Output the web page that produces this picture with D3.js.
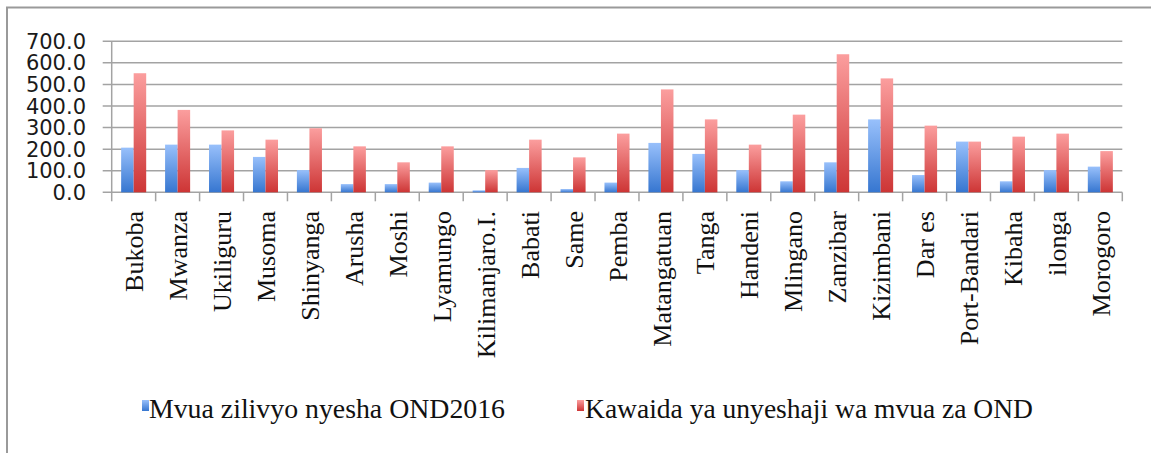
<!DOCTYPE html>
<html>
<head>
<meta charset="utf-8">
<script src="https://cdn.jsdelivr.net/npm/d3@7"></script>
<style>
  body { margin: 0; background: #fff; }
  svg { display: block; }
</style>
</head>
<body>
<div id="chart"></div>
<script>
// datos
const stations = ["Bukoba", "Mwanza", "Ukiliguru", "Musoma", "Shinyanga", "Arusha", "Moshi",
  "Lyamungo", "Kilimanjaro.I.", "Babati", "Same", "Pemba", "Matangatuan", "Tanga", "Handeni",
  "Mlingano", "Zanzibar", "Kizimbani", "Dar es", "Port-Bandari", "Kibaha", "ilonga", "Morogoro"];
const ond2016 = [207, 221, 221, 164, 103, 38, 38, 45, 9, 113, 15, 45, 229, 178, 103, 51, 139, 338, 80, 235, 51, 103, 119];
const kawaida = [552, 382, 287, 244, 297, 213, 139, 213, 103, 244, 162, 272, 477, 338, 221, 360, 640, 528, 309, 235, 258, 272, 191];
const seriesNames = ["Mvua zilivyo nyesha OND2016", "Kawaida ya unyeshaji wa mvua za OND"];
const yTicks = [0, 100, 200, 300, 400, 500, 600, 700];

const WIDTH = 1151;
const HEIGHT = 453;
const X0 = 111.7, X1 = 1122.3;
const Y0 = 192.3, Y1 = 41.3;
const SERIF = "'Liberation Serif', 'Times New Roman', 'DejaVu Serif', serif";

const svg = d3.select("#chart").append("svg")
  .attr("width", WIDTH).attr("height", HEIGHT);

// gradientes de las barras
const defs = svg.append("defs");
const grads = [
  { id: "gBlue", top: "#98c0fb", bottom: "#3676d0" },
  { id: "gRed", top: "#fb9e9e", bottom: "#cd3535" }
];
grads.forEach(g => {
  const lg = defs.append("linearGradient").attr("id", g.id)
    .attr("x1", 0).attr("y1", 0).attr("x2", 0).attr("y2", 1);
  lg.append("stop").attr("offset", "0%").attr("stop-color", g.top);
  lg.append("stop").attr("offset", "100%").attr("stop-color", g.bottom);
});

// marco (solo arriba e izquierda)
svg.append("path")
  .attr("d", `M7,${HEIGHT} L7,7.5 L${WIDTH},7.5`)
  .attr("fill", "none").attr("stroke", "#9a9a9a").attr("stroke-width", 2);

const x = d3.scaleBand().domain(stations).range([X0, X1]).padding(0);
const xInner = d3.scaleBand().domain([0, 1])
  .range([x.bandwidth() * 0.215, x.bandwidth() * 0.785]).padding(0);
const y = d3.scaleLinear().domain([0, 700]).range([Y0, Y1]);

// lineas de cuadricula
svg.append("g").selectAll("line").data(yTicks).join("line")
  .attr("x1", X0 - 9).attr("x2", X1)
  .attr("y1", d => y(d)).attr("y2", d => y(d))
  .attr("stroke", "#a3a3a3").attr("stroke-width", 1.5);

// eje y
svg.append("line")
  .attr("x1", X0).attr("x2", X0).attr("y1", y(700)).attr("y2", Y0)
  .attr("stroke", "#a3a3a3").attr("stroke-width", 1.5);

svg.append("g").selectAll("text").data(yTicks).join("text")
  .attr("x", 86).attr("y", d => y(d))
  .attr("dy", "0.36em")
  .attr("text-anchor", "end")
  .attr("font-family", "DejaVu Sans")
  .attr("font-size", 21)
  .attr("fill", "#1a1a1a")
  .text(d => d.toFixed(1));

// ticks del eje x
const tickPos = stations.map(s => x(s)).concat([X1]);
svg.append("g").selectAll("line").data(tickPos).join("line")
  .attr("x1", d => d).attr("x2", d => d)
  .attr("y1", Y0).attr("y2", Y0 + 9)
  .attr("stroke", "#a3a3a3").attr("stroke-width", 1.5);

// barras
const groups = svg.append("g").selectAll("g").data(stations).join("g")
  .attr("transform", d => `translate(${x(d)},0)`);

groups.selectAll("rect")
  .data((d, i) => [ond2016[i], kawaida[i]].map((v, k) => ({ v, k })))
  .join("rect")
  .attr("x", d => xInner(d.k))
  .attr("width", xInner.bandwidth())
  .attr("y", d => y(d.v))
  .attr("height", d => Y0 - y(d.v))
  .attr("fill", d => d.k === 0 ? "url(#gBlue)" : "url(#gRed)");

// etiquetas de categorias
svg.append("g").selectAll("text").data(stations).join("text")
  .attr("transform", d => `translate(${x(d) + x.bandwidth() / 2 + 1},211) rotate(-90)`)
  .attr("dy", "0.33em")
  .attr("text-anchor", "end")
  .attr("font-family", SERIF)
  .attr("font-size", 26)
  .attr("fill", "#111")
  .text(d => d);

// leyenda
const legendItems = [
  { name: seriesNames[0], sx: 142, tx: 149, len: 356, fill: "url(#gBlue)" },
  { name: seriesNames[1], sx: 577, tx: 585, len: 448, fill: "url(#gRed)" }
];
const lg = svg.append("g").selectAll("g").data(legendItems).join("g");
lg.append("rect")
  .attr("x", d => d.sx).attr("y", 400)
  .attr("width", 7).attr("height", 11)
  .attr("fill", d => d.fill);
lg.append("text")
  .attr("x", d => d.tx).attr("y", 418)
  .attr("font-family", SERIF)
  .attr("font-size", 27)
  .attr("textLength", d => d.len)
  .attr("lengthAdjust", "spacingAndGlyphs")
  .attr("fill", "#111")
  .text(d => d.name);
</script>
</body>
</html>
